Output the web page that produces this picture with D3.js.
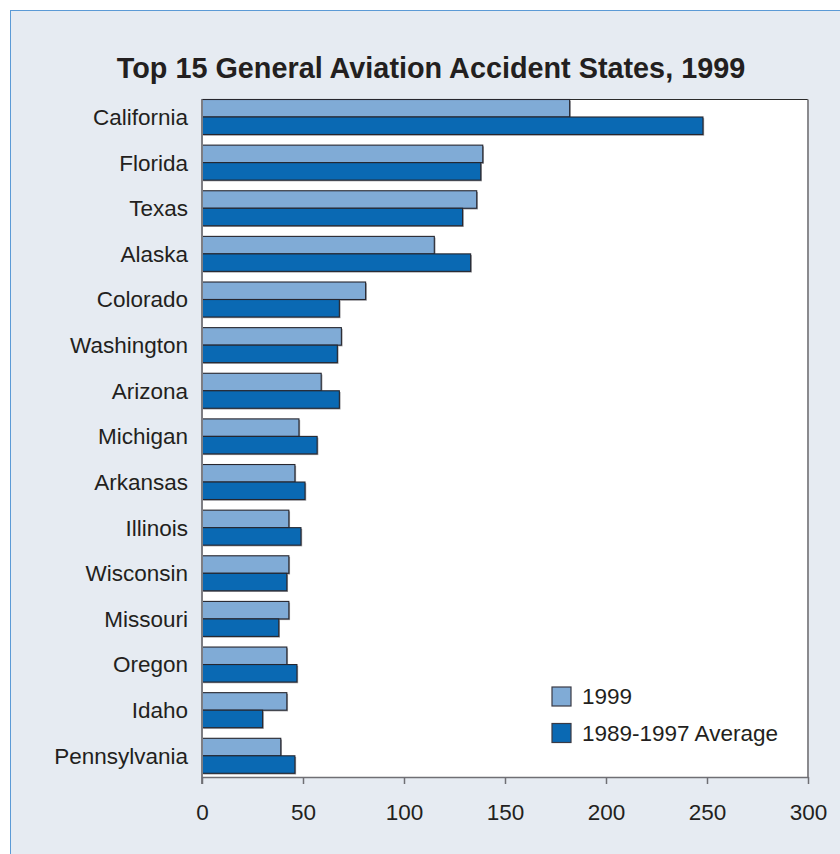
<!DOCTYPE html>
<html>
<head>
<meta charset="utf-8">
<script src="https://cdn.jsdelivr.net/npm/d3@7/dist/d3.min.js"></script>
<style>
  html, body { margin: 0; padding: 0; background: #ffffff; }
  svg { display: block; font-family: "Liberation Sans", Arial, Helvetica, sans-serif; }
</style>
</head>
<body>
<svg id="chart" width="840" height="854"></svg>
<script>
// Accident counts by state: 1999 vs. the 1989-1997 average
const states = ["California", "Florida", "Texas", "Alaska", "Colorado", "Washington",
  "Arizona", "Michigan", "Arkansas", "Illinois", "Wisconsin", "Missouri",
  "Oregon", "Idaho", "Pennsylvania"];
const values1999 = [182, 139, 136, 115, 81, 69, 59, 48, 46, 43, 43, 43, 42, 42, 39];
const valuesAvg = [248, 138, 129, 133, 68, 67, 68, 57, 51, 49, 42, 38, 47, 30, 46];
const seriesNames = ["1999", "1989-1997 Average"];
const seriesColors = ["#80abd6", "#0a69b3"];
const xTicks = [0, 50, 100, 150, 200, 250, 300];
const title = "Top 15 General Aviation Accident States, 1999";

const svg = d3.select("#chart");

// panel background with the thin blue frame on its top and left edges
svg.append("rect")
  .attr("x", 10.5).attr("y", 10.5)
  .attr("width", 840).attr("height", 860)
  .attr("fill", "#e6ebf2")
  .attr("stroke", "#5b9ad6").attr("stroke-width", 1);

const plot = { left: 202, right: 808, top: 99.5, bottom: 777 };

const x = d3.scaleLinear().domain([0, 300]).range([plot.left, plot.right]);
const y = d3.scaleBand().domain(states)
  .range([plot.top, 773.3]).paddingInner(0.233).paddingOuter(0).align(0);
const sub = d3.scaleBand().domain([0, 1]).range([0, y.bandwidth()]);

// plot area
svg.append("rect")
  .attr("x", plot.left).attr("y", plot.top)
  .attr("width", plot.right - plot.left).attr("height", plot.bottom - plot.top)
  .attr("fill", "#ffffff");
svg.append("line")
  .attr("x1", plot.left).attr("x2", plot.right)
  .attr("y1", plot.top).attr("y2", plot.top)
  .attr("stroke", "#2b2b2b").attr("stroke-width", 1.2);
svg.append("line")
  .attr("x1", plot.right).attr("x2", plot.right)
  .attr("y1", plot.top).attr("y2", plot.bottom)
  .attr("stroke", "#8a8a8e").attr("stroke-width", 2);

svg.append("text")
  .attr("x", 431).attr("y", 78)
  .attr("text-anchor", "middle")
  .attr("font-size", 28.8).attr("font-weight", "bold")
  .attr("fill", "#231f20")
  .text(title);

const rows = states.map((s, i) => ({ state: s, vals: [values1999[i], valuesAvg[i]] }));

const groups = svg.append("g").selectAll("g")
  .data(rows).join("g")
  .attr("transform", d => `translate(0,${y(d.state)})`);

// soft grey shadow behind each bar
groups.selectAll("rect.shadow")
  .data(d => d.vals.map((v, k) => ({ v, k })))
  .join("rect")
  .attr("class", "shadow")
  .attr("x", x(0) + 1.2)
  .attr("y", d => sub(d.k) + 1.2)
  .attr("width", d => x(d.v) - x(0))
  .attr("height", sub.bandwidth())
  .attr("fill", "#9a9a9e");

groups.selectAll("rect.bar")
  .data(d => d.vals.map((v, k) => ({ v, k })))
  .join("rect")
  .attr("class", "bar")
  .attr("x", x(0))
  .attr("y", d => sub(d.k))
  .attr("width", d => x(d.v) - x(0))
  .attr("height", sub.bandwidth())
  .attr("fill", d => seriesColors[d.k])
  .attr("stroke", "#26262e").attr("stroke-width", 1.1);

// category labels
svg.append("g").selectAll("text")
  .data(states).join("text")
  .attr("x", 188)
  .attr("y", d => y(d) + y.bandwidth() / 2)
  .attr("dy", "0.35em")
  .attr("text-anchor", "end")
  .attr("font-size", 22.5)
  .attr("fill", "#231f20")
  .text(d => d);

// left axis line
svg.append("line")
  .attr("x1", plot.left).attr("x2", plot.left)
  .attr("y1", plot.top).attr("y2", plot.bottom + 7)
  .attr("stroke", "#7d7d82").attr("stroke-width", 2);

// value axis
const xAxis = d3.axisBottom(x).tickValues(xTicks).tickSize(7).tickPadding(20).tickSizeOuter(0);
const ax = svg.append("g")
  .attr("transform", `translate(0,${plot.bottom})`)
  .call(xAxis);
ax.select(".domain").attr("stroke", "#6f6f74").attr("stroke-width", 1.5);
ax.selectAll(".tick line").attr("stroke", "#6f6f74").attr("stroke-width", 1.5);
ax.selectAll(".tick text")
  .attr("font-size", 22.5)
  .attr("font-family", "Liberation Sans, Arial, sans-serif")
  .attr("fill", "#231f20");

// legend
const legend = svg.append("g").attr("transform", "translate(552,687)");
const li = legend.selectAll("g").data(seriesNames).join("g")
  .attr("transform", (d, i) => `translate(0,${i * 36.5})`);
li.append("rect")
  .attr("width", 19).attr("height", 19)
  .attr("fill", (d, i) => seriesColors[i])
  .attr("stroke", "#3a3a44").attr("stroke-width", 1.2);
li.append("text")
  .attr("x", 30).attr("y", 9.5).attr("dy", "0.35em")
  .attr("font-size", 22.5)
  .attr("fill", "#231f20")
  .text(d => d);
</script>
</body>
</html>
